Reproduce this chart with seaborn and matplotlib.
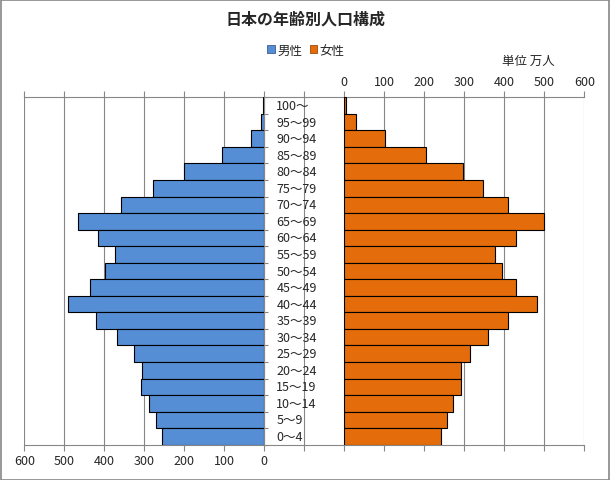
import matplotlib
matplotlib.use("Agg")
from matplotlib import pyplot as plt
from matplotlib.patches import Patch, Rectangle
import numpy as np
import pandas as pd
import seaborn as sns

# 年齢階級 (young -> old), 単位 万人
ages = ["0～4", "5～9", "10～14", "15～19", "20～24", "25～29", "30～34",
        "35～39", "40～44", "45～49", "50～54", "55～59", "60～64", "65～69",
        "70～74", "75～79", "80～84", "85～89", "90～94", "95～99", "100～"]
male = [255, 270, 287.5, 307.5, 305, 325, 367.5, 420, 490, 435, 397.5,
        372.5, 415, 465, 357.5, 277.5, 200, 105, 32.5, 7.5, 2.5]
female = [242.5, 257.5, 272.5, 292.5, 292.5, 315, 360, 410, 482.5, 430, 395,
          377.5, 430, 498, 410, 347.5, 297.5, 205, 102.5, 30, 5]
ticks = [0, 100, 200, 300, 400, 500, 600]

df = pd.DataFrame({"age": ages, "男性": male, "女性": female})
order = ages[::-1]

sns.set_style("white")
plt.rcParams["font.family"] = ["Noto Sans CJK JP", "DejaVu Sans"]

BLUE = "#558ED5"
ORANGE = "#E46C0A"
GRAY = "#868686"

W, H = 610, 481
fig = plt.figure(figsize=(W / 100, H / 100), dpi=100)

x0, x1 = 24.3, 584.3
ytop, ybot = 98.3, 445.7
gap_l, gap_r = 264.3, 344.3


def box(a, b):
    return [a / W, 1 - ybot / H, (b - a) / W, (ybot - ytop) / H]


# background: grid + tick marks across the whole width
ax_bg = fig.add_axes(box(x0, x1))
ax_bg.set_xlim(-800, 600)
ax_bg.set_ylim(len(order) - 0.5, -0.5)
ax_bg.set_xticks(np.arange(-800, 601, 100))
ax_bg.grid(axis="x", color=GRAY, linewidth=0.8)
ax_bg.set_axisbelow(True)
ax_bg.tick_params(axis="x", which="both", top=True, bottom=True, direction="out",
                  length=4, width=0.8, color=GRAY, labelbottom=False, labeltop=False)
ax_bg.set_yticks([])
for side in ["left", "right"]:
    ax_bg.spines[side].set_visible(False)
for side in ["top", "bottom"]:
    ax_bg.spines[side].set_color(GRAY)
    ax_bg.spines[side].set_linewidth(0.8)

for i, lab in enumerate(order):
    ax_bg.text(-170, i, lab, ha="left", va="center", fontsize=9)

# men (left, reversed axis)
ax_m = fig.add_axes(box(x0, gap_l))
ax_m.patch.set_alpha(0)
sns.barplot(data=df, x="男性", y="age", order=order, color=BLUE, saturation=1,
            width=1, edgecolor="black", linewidth=0.8, ax=ax_m)
ax_m.set_xlim(600, 0)
ax_m.set_xticks(ticks)
ax_m.tick_params(axis="x", length=0, pad=7, labelsize=9)
ax_m.set_xlabel("")
ax_m.set_ylabel("")
ax_m.set_yticks([])
ax_m.set_yticks(np.arange(-0.5, len(order), 1), minor=True)
ax_m.tick_params(axis="y", which="minor", left=False, right=True, direction="out",
                 length=3, width=0.8, color=GRAY, labelright=False, labelleft=False)
for side in ["left", "top", "bottom"]:
    ax_m.spines[side].set_visible(False)
ax_m.spines["right"].set_color(GRAY)
ax_m.spines["right"].set_linewidth(0.8)

# women (right)
ax_w = fig.add_axes(box(gap_r, x1))
ax_w.patch.set_alpha(0)
sns.barplot(data=df, x="女性", y="age", order=order, color=ORANGE, saturation=1,
            width=1, edgecolor="black", linewidth=0.8, ax=ax_w)
ax_w.set_xlim(0, 600)
ax_w.set_xticks(ticks)
ax_w.xaxis.tick_top()
ax_w.tick_params(axis="x", length=0, pad=7, labelsize=9)
ax_w.set_xlabel("")
ax_w.set_ylabel("")
ax_w.set_yticks([])
for side in ax_w.spines:
    ax_w.spines[side].set_visible(False)

fig.text(305 / W, 1 - 20 / H, "日本の年齢別人口構成", ha="center", va="center",
         fontsize=11.5, fontweight="bold")
handles = [Patch(facecolor=BLUE, edgecolor="#3a5f90", linewidth=0.6),
           Patch(facecolor=ORANGE, edgecolor="#9a4a08", linewidth=0.6)]
fig.legend(handles, ["男性", "女性"], loc="center", ncol=2,
           bbox_to_anchor=(306 / W, 1 - 51 / H), frameon=False, fontsize=9,
           handlelength=0.6, handleheight=0.6, handletextpad=0.2,
           columnspacing=0.6, borderpad=0)
fig.text(502 / W, 1 - 61 / H, "単位 万人", ha="left", va="center", fontsize=9)

fig.patches.append(Rectangle((0.5 / W, 0.5 / H), (W - 1.5) / W, (H - 1.5) / H,
                             transform=fig.transFigure, fill=False,
                             edgecolor=GRAY, linewidth=1.2))

fig.savefig("out.png", dpi=100)
